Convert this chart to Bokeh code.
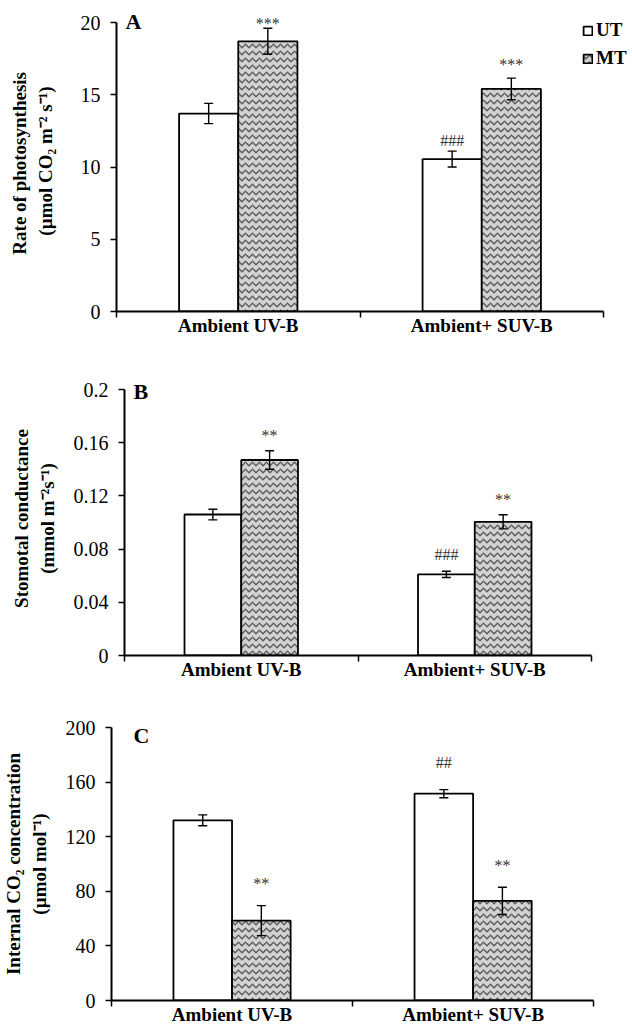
from bokeh.plotting import figure
from bokeh.models import (ColumnDataSource, Whisker, TeeHead, FixedTicker,
                          NumeralTickFormatter, Label, LabelSet, Legend, LegendItem, Range1d)
from bokeh.core.properties import value
from bokeh.embed import file_html
from bokeh.resources import INLINE

SERIF = "Liberation Serif"

# ---------------- data ----------------
groups = ["Ambient UV-B", "Ambient+ SUV-B"]

a_ut = [13.7, 10.55]
a_ut_err = [0.7, 0.55]
a_mt = [18.7, 15.4]
a_mt_err = [0.9, 0.75]
a_ut_sig = ["", "###"]
a_mt_sig = ["***", "***"]
a_ticks = [0, 5, 10, 15, 20]

b_ut = [0.106, 0.061]
b_ut_err = [0.004, 0.0023]
b_mt = [0.147, 0.1005]
b_mt_err = [0.007, 0.0053]
b_ut_sig = ["", "###"]
b_mt_sig = ["**", "**"]
b_ticks = [0, 0.04, 0.08, 0.12, 0.16, 0.2]

c_ut = [132, 151.5]
c_ut_err = [4, 3]
c_mt = [58.5, 73]
c_mt_err = [11, 10]
c_ut_sig = ["", "##"]
c_mt_sig = ["**", "**"]
c_ticks = [0, 40, 80, 120, 160, 200]

series_names = ["UT", "MT"]

BAR_W = 0.243
PAGE_W = 632
MT_FILL = "#d2d2d2"
MT_HATCH = "#5a5a5a"


def make_panel(letter, ut, ut_err, mt, mt_err, ut_sig, mt_sig, ticks, ylabel, fmt,
               fig_top, frame_top, ymax_px, zero_px, fig_bottom,
               axis_x, axis_end_x, label_standoff,
               ut_sig_px, mt_sig_px, letter_xy, legend_xy=None):
    """All geometry arguments are page pixel positions (styling only)."""
    ymax = ticks[-1]
    ppu_y = (zero_px - ymax_px) / ymax
    ppu_x = (axis_end_x - axis_x) / 2.0
    frame_w = PAGE_W - axis_x
    y_end = ymax + (ymax_px - frame_top) / ppu_y
    x_end = frame_w / ppu_x

    p = figure(width=PAGE_W, height=fig_bottom - fig_top, output_backend="svg",
               toolbar_location=None,
               x_range=Range1d(0, x_end), y_range=Range1d(0, y_end),
               min_border_left=axis_x, min_border_right=0,
               min_border_top=frame_top - fig_top, min_border_bottom=fig_bottom - zero_px)
    p.outline_line_color = None
    p.xgrid.visible = False
    p.ygrid.visible = False
    p.background_fill_color = "white"

    xs = [i + 0.5 for i in range(len(groups))]
    x_ut = [x - BAR_W / 2 for x in xs]
    x_mt = [x + BAR_W / 2 for x in xs]

    r_ut = p.vbar(x=x_ut, top=ut, width=BAR_W, bottom=0, fill_color="white",
                  line_color="black", line_width=1.8)
    r_mt = p.vbar(x=x_mt, top=mt, width=BAR_W, bottom=0, fill_color=MT_FILL,
                  hatch_pattern="horizontal_wave", hatch_color=MT_HATCH,
                  hatch_scale=7, hatch_weight=1.3,
                  line_color="black", line_width=1.8)

    # error bars
    ex = x_ut + x_mt
    ev = list(ut) + list(mt)
    ee = list(ut_err) + list(mt_err)
    esrc = ColumnDataSource(dict(x=ex, upper=[v + e for v, e in zip(ev, ee)],
                                 lower=[v - e for v, e in zip(ev, ee)]))
    w = Whisker(base="x", upper="upper", lower="lower", source=esrc, level="overlay",
                line_color="black", line_width=1.4,
                upper_head=TeeHead(size=9, line_width=1.4, line_color="black"),
                lower_head=TeeHead(size=9, line_width=1.4, line_color="black"))
    p.add_layout(w)

    # significance marks
    sx, sy, st = [], [], []
    for i in range(len(groups)):
        if ut_sig[i]:
            sx.append(x_ut[i]); st.append(ut_sig[i])
            sy.append(ut[i] + ut_err[i] + ut_sig_px[i] / ppu_y)
        if mt_sig[i]:
            sx.append(x_mt[i]); st.append(mt_sig[i])
            sy.append(mt[i] + mt_err[i] + mt_sig_px[i] / ppu_y)
    ls = LabelSet(x="x", y="y", text="t", source=ColumnDataSource(dict(x=sx, y=sy, t=st)),
                  text_align="center", text_baseline="middle",
                  text_font=value(SERIF), text_font_size="16px", text_color="#333333")
    p.add_layout(ls)

    # panel letter
    lx, ly = letter_xy
    p.add_layout(Label(x=(lx - axis_x) / ppu_x, y=(zero_px - ly) / ppu_y, text=letter,
                       text_font=SERIF, text_font_style="bold", text_font_size="22px",
                       text_align="left", text_baseline="middle", text_color="black"))

    # x axis
    xa = p.xaxis[0]
    xa.bounds = (0, 2)
    xa.ticker = FixedTicker(ticks=xs, minor_ticks=[0, 1, 2])
    xa.major_label_overrides = {xs[i]: groups[i] for i in range(len(groups))}
    xa.major_tick_out = 0
    xa.major_tick_in = 0
    xa.minor_tick_out = 6
    xa.minor_tick_in = 0
    xa.minor_tick_line_color = "black"
    xa.minor_tick_line_width = 1.5
    xa.axis_line_width = 2
    xa.axis_line_color = "black"
    xa.major_label_standoff = -3
    xa.major_label_text_font = SERIF
    xa.major_label_text_font_style = "bold"
    xa.major_label_text_font_size = "19px"
    xa.major_label_text_color = "black"

    # y axis
    ya = p.yaxis[0]
    ya.bounds = (0, ymax)
    ya.ticker = FixedTicker(ticks=ticks, minor_ticks=[])
    ya.formatter = NumeralTickFormatter(format=fmt)
    ya.major_tick_out = 6
    ya.major_tick_in = 0
    ya.major_tick_line_width = 1.5
    ya.major_tick_line_color = "black"
    ya.axis_line_width = 2
    ya.axis_line_color = "black"
    ya.major_label_standoff = 10
    ya.major_label_text_font = SERIF
    ya.major_label_text_font_size = "20px"
    ya.major_label_text_color = "black"
    ya.axis_label = ylabel
    ya.axis_label_text_font = SERIF
    ya.axis_label_text_font_style = "bold"
    ya.axis_label_text_font_size = "19px"
    ya.axis_label_text_color = "black"
    ya.axis_label_standoff = label_standoff

    if legend_xy is not None:
        gx, gy = legend_xy
        lg = Legend(items=[LegendItem(label=value(series_names[0]), renderers=[r_ut]),
                           LegendItem(label=value(series_names[1]), renderers=[r_mt])],
                    location=(gx - axis_x, zero_px - gy), orientation="vertical",
                    border_line_color=None, background_fill_alpha=0,
                    padding=0, margin=0, spacing=6,
                    glyph_width=11, glyph_height=11, label_standoff=3,
                    label_height=20,
                    label_text_font=SERIF, label_text_font_style="bold",
                    label_text_font_size="19px", label_text_color="black")
        p.add_layout(lg)
    return p


pA = make_panel("A", a_ut, a_ut_err, a_mt, a_mt_err, a_ut_sig, a_mt_sig, a_ticks,
                "Rate of  photosynthesis\n(µmol CO₂ m⁻² s⁻¹)", "0",
                fig_top=0, frame_top=10, ymax_px=22, zero_px=311, fig_bottom=355,
                axis_x=116, axis_end_x=603, label_standoff=22,
                ut_sig_px=[0, 11], mt_sig_px=[5, 14], letter_xy=(125, 21),
                legend_xy=(582, 69))

pB = make_panel("B", b_ut, b_ut_err, b_mt, b_mt_err, b_ut_sig, b_mt_sig, b_ticks,
                "Stomotal conductance\n(mmol m⁻²s⁻¹)", "0.[00]",
                fig_top=355, frame_top=381, ymax_px=389, zero_px=655, fig_bottom=695,
                axis_x=124, axis_end_x=591, label_standoff=13,
                ut_sig_px=[0, 17], mt_sig_px=[15, 15], letter_xy=(133, 391))

pC = make_panel("C", c_ut, c_ut_err, c_mt, c_mt_err, c_ut_sig, c_mt_sig, c_ticks,
                "Internal CO₂ concentration\n(µmol mol⁻¹)", "0",
                fig_top=695, frame_top=727, ymax_px=727, zero_px=1000, fig_bottom=1035,
                axis_x=109, axis_end_x=593, label_standoff=13,
                ut_sig_px=[0, 27], mt_sig_px=[22, 22], letter_xy=(131, 735))

open("out.html", "w").write(file_html([pA, pB, pC], INLINE))
